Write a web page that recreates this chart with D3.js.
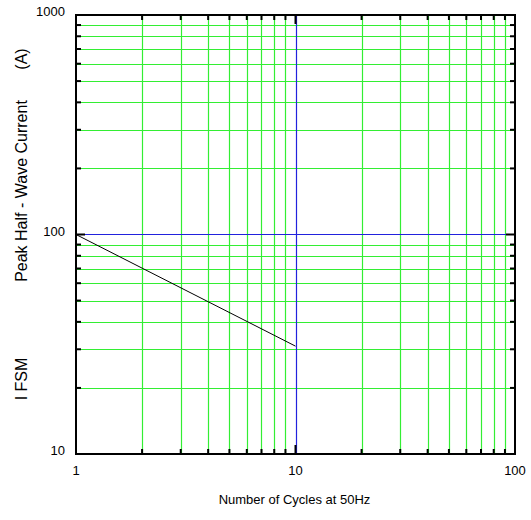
<!DOCTYPE html>
<html><head><meta charset="utf-8">
<script src="https://cdn.jsdelivr.net/npm/d3@7"></script>
<style>body{margin:0;background:#fff;} svg{display:block;font-family:"Liberation Sans",Arial,sans-serif;}</style>
</head><body>
<svg id="c" width="531" height="520"></svg>
<script>
const xDomain = [1, 100];
const yDomain = [10, 1000];
const xTickLabels = [1, 10, 100];
const yTickLabels = [10, 100, 1000];
const xMinor = [2,3,4,5,6,7,8,9,20,30,40,50,60,70,80,90];
const yMinor = [20,30,40,50,60,70,80,90,200,300,400,500,600,700,800,900];
const xMajorGrid = [10];
const yMajorGrid = [100];
const cycles = [1, 10];
const current = [100, 31];
const xTitle = "Number of Cycles at 50Hz";
const yTitleParts = ["I FSM", "Peak Half - Wave Current", "(A)"];

const m = {l:76, r:16, t:15, b:66};
const W = 531, H = 520;
const svg = d3.select("#c");
const x = d3.scaleLog().domain(xDomain).range([m.l, W - m.r]);
const y = d3.scaleLog().domain(yDomain).range([H - m.b, m.t]);
const x0 = m.l, x1 = W - m.r, y0 = H - m.b, y1 = m.t;

const g = svg.append("g");
g.selectAll(".gx").data(xMinor).join("line")
  .attr("x1", d => Math.round(x(d)) + 0.5).attr("x2", d => Math.round(x(d)) + 0.5)
  .attr("y1", y1).attr("y2", y0).attr("stroke", "#33ee33").attr("stroke-width", 1.2);
g.selectAll(".gy").data(yMinor).join("line")
  .attr("y1", d => Math.round(y(d)) + 0.5).attr("y2", d => Math.round(y(d)) + 0.5)
  .attr("x1", x0).attr("x2", x1).attr("stroke", "#33ee33").attr("stroke-width", 1.2);
g.selectAll(".bx").data(xMajorGrid).join("line")
  .attr("x1", d => Math.round(x(d)) + 0.5).attr("x2", d => Math.round(x(d)) + 0.5)
  .attr("y1", y1).attr("y2", y0).attr("stroke", "#2222dd").attr("stroke-width", 1.2);
g.selectAll(".by").data(yMajorGrid).join("line")
  .attr("y1", d => Math.round(y(d)) + 0.5).attr("y2", d => Math.round(y(d)) + 0.5)
  .attr("x1", x0).attr("x2", x1).attr("stroke", "#2222dd").attr("stroke-width", 1.2);

const line = d3.line().x((d,i) => x(cycles[i])).y(d => y(d));
svg.append("path").datum(current).attr("d", line)
  .attr("fill", "none").attr("stroke", "#000").attr("stroke-width", 1);

const tk = svg.append("g").attr("stroke", "#000").attr("stroke-width", 2);
xMinor.forEach(d => {
  const px = x(d);
  tk.append("line").attr("x1", px).attr("x2", px).attr("y1", y0).attr("y2", y0 - 5);
  tk.append("line").attr("x1", px).attr("x2", px).attr("y1", y1).attr("y2", y1 + 5);
});
yMinor.forEach(d => {
  const py = y(d);
  tk.append("line").attr("y1", py).attr("y2", py).attr("x1", x0).attr("x2", x0 + 5);
  tk.append("line").attr("y1", py).attr("y2", py).attr("x1", x1).attr("x2", x1 - 5);
});
xTickLabels.forEach(d => {
  const px = x(d);
  tk.append("line").attr("x1", px).attr("x2", px).attr("y1", y0).attr("y2", y0 - 9);
  tk.append("line").attr("x1", px).attr("x2", px).attr("y1", y1).attr("y2", y1 + 9);
});
yTickLabels.forEach(d => {
  const py = y(d);
  tk.append("line").attr("y1", py).attr("y2", py).attr("x1", x0).attr("x2", x0 + 9);
  tk.append("line").attr("y1", py).attr("y2", py).attr("x1", x1).attr("x2", x1 - 9);
});

svg.append("rect").attr("x", x0).attr("y", y1).attr("width", x1 - x0).attr("height", y0 - y1)
  .attr("fill", "none").attr("stroke", "#000").attr("stroke-width", 2);

svg.selectAll(".xl").data(xTickLabels).join("text")
  .attr("x", d => x(d)).attr("y", y0 + 21).attr("text-anchor", "middle")
  .attr("font-size", 13).text(d => d);
svg.selectAll(".yl").data(yTickLabels).join("text")
  .attr("x", x0 - 11).attr("y", d => y(d) + 1).attr("text-anchor", "end")
  .attr("font-size", 13).text(d => d);

svg.append("text").attr("x", (x0 + x1) / 2 - 1).attr("y", 504).attr("text-anchor", "middle")
  .attr("font-size", 13).text(xTitle);
const yTitlePos = [379, 191, 59];
svg.selectAll(".yt").data(yTitleParts).join("text")
  .attr("transform", (d, i) => `translate(27,${yTitlePos[i]}) rotate(-90)`)
  .attr("text-anchor", "middle").attr("font-size", 16).text(d => d);
</script>
</body></html>
